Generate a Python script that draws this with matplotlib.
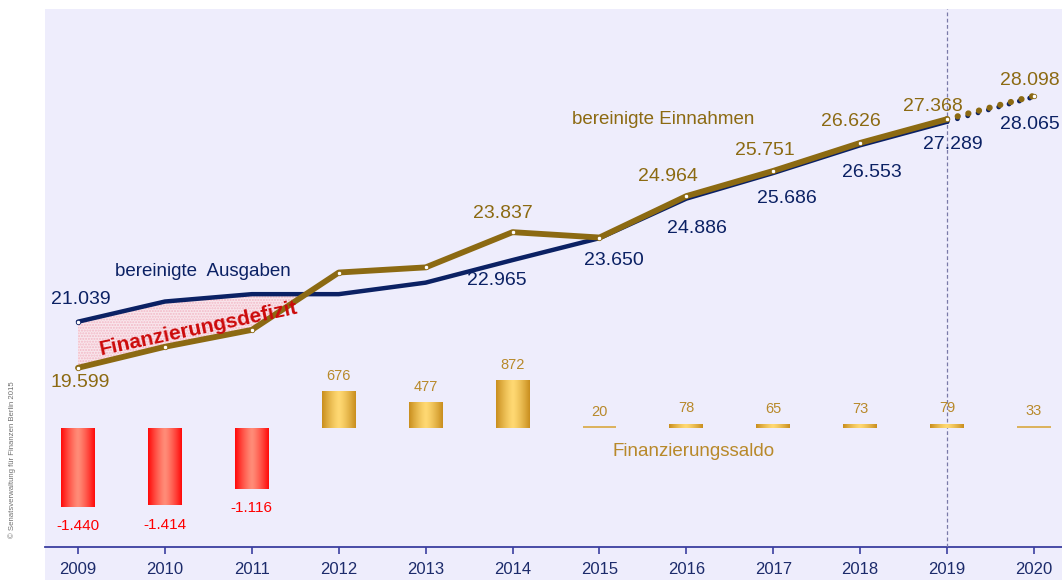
import numpy as np
import matplotlib
matplotlib.use("Agg")
import matplotlib.pyplot as plt
from matplotlib.patches import Rectangle

# ---------------- data (Mio. €) ----------------
years = [2009, 2010, 2011, 2012, 2013, 2014, 2015, 2016, 2017, 2018, 2019, 2020]
ausgaben = [21039, 21670, 21900, 21900, 22260, 22965, 23650, 24886, 25686, 26553, 27289, 28065]
einnahmen = [19599, 20256, 20784, 22576, 22737, 23837, 23670, 24964, 25751, 26626, 27368, 28098]
saldo = [-1440, -1414, -1116, 676, 477, 872, 20, 78, 65, 73, 79, 33]
ausgaben_labelled = [2009, 2014, 2015, 2016, 2017, 2018, 2019, 2020]
einnahmen_labelled = [2009, 2014, 2016, 2017, 2018, 2019, 2020]
plan_start = 2019

# ---------------- style ----------------
NAVY = "#0B2164"
GOLD = "#8C6A12"
GOLD_TXT = "#8C6A12"
SALDO_TXT = "#B8892A"
RED = "#FF0000"
BG = "#EEEDFC"
AXIS = "#3B3FA0"
FONT = ["Liberation Sans", "DejaVu Sans"]


def de(v):
    return f"{v:,}".replace(",", ".")


W, H = 1062, 580
fig = plt.figure(figsize=(W / 100, H / 100), dpi=100)
fig.patches.append(Rectangle((45 / W, 0), 1 - 45 / W, 1 - 9 / H, transform=fig.transFigure,
                             facecolor=BG, edgecolor="none", zorder=-10))

ax = fig.add_axes([45 / W, (H - 547) / H, 1 - 45 / W, (547 - 9) / H])
ax.set_facecolor("none")
ax2 = ax.twinx()
ax2.set_facecolor("none")

xlim = (2009 - 33 / 86.9, 2020 + 28 / 86.9)
ylim = (14000, 30810)
ylim2 = (-2183, 7688)

# ---------------- bars with gradient ----------------
bars = ax2.bar(years, saldo, width=0.39, color="none", edgecolor="none", zorder=2)
grad = np.abs(np.linspace(-1, 1, 64)) ** 1.3
red_edge, red_mid = np.array([1.0, 0.04, 0.04]), np.array([1.0, 0.55, 0.47])
gold_edge, gold_mid = np.array([0.79, 0.56, 0.12]), np.array([1.0, 0.85, 0.45])
for b, v in zip(bars, saldo):
    x0, y0 = b.get_x(), b.get_y()
    w, h = b.get_width(), b.get_height()
    e, m = (red_edge, red_mid) if v < 0 else (gold_edge, gold_mid)
    if abs(v) < 50:
        # very thin bars: a plain gold stroke along the bar
        ax2.plot([x0, x0 + w], [v / 2, v / 2], color="#D9A840", lw=1.2,
                 solid_capstyle="butt", zorder=2)
    else:
        img = (m[None, :] * (1 - grad[:, None]) + e[None, :] * grad[:, None])[None, :, :]
        im = ax2.imshow(img, extent=[x0, x0 + w, min(y0, y0 + h), max(y0, y0 + h)],
                        aspect="auto", zorder=2, interpolation="bilinear")
        im.set_clip_path(b)
    if v < 0:
        ax2.annotate(de(v), (x0 + w / 2, v), xytext=(0, -9), textcoords="offset points",
                     ha="center", va="top", color=RED, fontsize=11, family=FONT)
    else:
        ax2.annotate(de(v), (x0 + w / 2, v), xytext=(0, 6), textcoords="offset points",
                     ha="center", va="bottom", color=SALDO_TXT, fontsize=10.5, family=FONT)

# ---------------- deficit fill ----------------
a = np.array(ausgaben, dtype=float)
e_ = np.array(einnahmen, dtype=float)
ax.fill_between(years, a, e_, where=a > e_, interpolate=True, facecolor="#F9E6EC",
                edgecolor="#F2B8C6", hatch="......", linewidth=0, zorder=1)

# ---------------- lines ----------------
i_plan = years.index(plan_start)
ax.plot(years[:i_plan + 1], ausgaben[:i_plan + 1], color=NAVY, lw=3.2, zorder=4,
        solid_capstyle="round")
ax.plot(years[:i_plan + 1], einnahmen[:i_plan + 1], color=GOLD, lw=4.2, zorder=5,
        solid_capstyle="round")
ax.plot(years[i_plan:], ausgaben[i_plan:], color=NAVY, lw=3.5, ls=(0, (0.01, 2.2)),
        dash_capstyle="round", zorder=4)
ax.plot(years[i_plan:], einnahmen[i_plan:], color=GOLD, lw=4.5, ls=(0, (0.01, 1.75)),
        dash_capstyle="round", zorder=5)
ax.plot(years, einnahmen, ls="none", marker="o", ms=3.2, mfc="white", mec=GOLD, mew=0.6, zorder=6)
ax.plot(years[:1], ausgaben[:1], ls="none", marker="o", ms=3.2, mfc="white", mec=NAVY, mew=0.6, zorder=6)

# ---------------- value labels (pixel offsets) ----------------
px = 0.72
aus_off = {2009: (3, 22), 2014: (-16, -20), 2015: (14, -22), 2016: (11, -30), 2017: (14, -26),
           2018: (12, -27), 2019: (6, -23), 2020: (-4, -28)}
ein_off = {2009: (2, -15), 2014: (-10, 19), 2016: (-18, 20), 2017: (-8, 20), 2018: (-9, 21),
           2019: (-14, 13), 2020: (-4, 15)}
for yr in ausgaben_labelled:
    v = ausgaben[years.index(yr)]
    dx, dy = aus_off[yr]
    ax.annotate(de(v), (yr, v), xytext=(dx * px, dy * px), textcoords="offset points",
                ha="center", va="center", color=NAVY, fontsize=14, family=FONT, zorder=7)
for yr in einnahmen_labelled:
    v = einnahmen[years.index(yr)]
    dx, dy = ein_off[yr]
    ax.annotate(de(v), (yr, v), xytext=(dx * px, dy * px), textcoords="offset points",
                ha="center", va="center", color=GOLD_TXT, fontsize=14, family=FONT, zorder=7)

# ---------------- series titles ----------------
def fx(p):
    return fig.transFigure.inverted().transform((p[0], H - p[1]))

fig.text(*fx((203, 271)), "bereinigte  Ausgaben", color=NAVY, fontsize=13.5, family=FONT,
         ha="center", va="center")
fig.text(*fx((663, 120)), "bereinigte Einnahmen", color=GOLD_TXT, fontsize=13.5, family=FONT,
         ha="center", va="center")
fig.text(*fx((694, 451)), "Finanzierungssaldo", color=SALDO_TXT, fontsize=13.5, family=FONT,
         ha="center", va="center")
fig.text(*fx((199, 329)), "Finanzierungsdefizit", color="#CC0A0A", fontsize=15, family=FONT,
         fontweight="bold", ha="center", va="center", rotation=12, zorder=8)
fig.text(*fx((12, 460)), "© Senatsverwaltung für Finanzen Berlin 2015", color="#707070",
         fontsize=5.6, family=FONT, ha="center", va="center", rotation=90)

# ---------------- plan line ----------------
ax.axvline(plan_start, color="#7A7AA8", lw=0.9, ls=(0, (3, 2)), zorder=3)

# ---------------- axes ----------------
ax.set_xlim(*xlim)
ax.set_ylim(*ylim)
ax2.set_xlim(*xlim)
ax2.set_ylim(*ylim2)
ax.set_xticks(years)
ax.set_xticklabels([str(y) for y in years], color="#1C2B6B", fontsize=12, family=FONT)
ax.tick_params(axis="x", length=5, width=1.2, color=AXIS, pad=6)
ax.set_yticks([])
ax2.set_yticks([])
for s in ["top", "left", "right"]:
    ax.spines[s].set_visible(False)
    ax2.spines[s].set_visible(False)
ax2.spines["bottom"].set_visible(False)
ax.spines["bottom"].set_color(AXIS)
ax.spines["bottom"].set_linewidth(1.3)

fig.savefig("out.png", dpi=100)
